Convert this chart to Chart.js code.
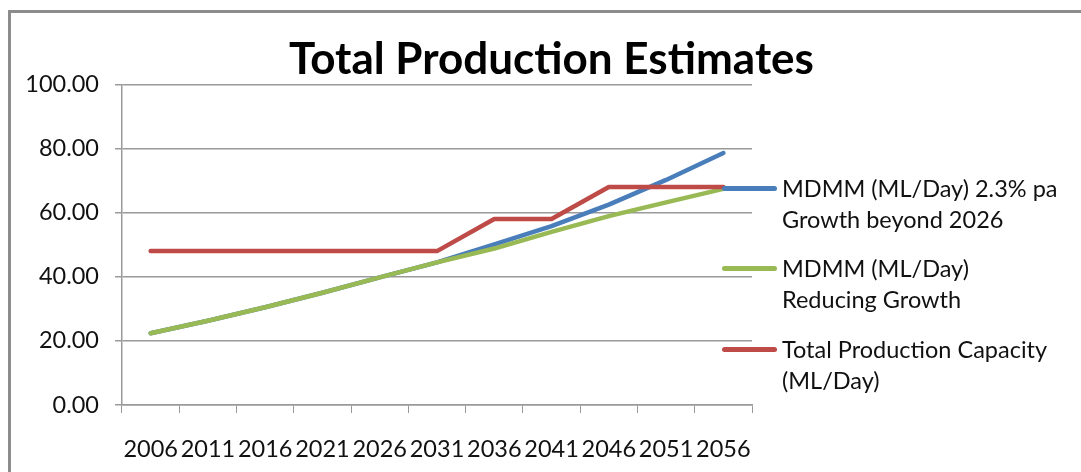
<!DOCTYPE html>
<html>
<head>
<meta charset="utf-8">
<script src="https://cdn.jsdelivr.net/npm/chart.js@4.4.1/dist/chart.umd.min.js"></script>
<style>
    body { margin: 0; background: #fff; }
    #wrap { position: relative; width: 1081px; height: 472px; overflow: hidden; }
    #frame { position: absolute; left: 8px; top: 10px; width: 1200px; height: 600px;
             border-left: 3px solid #8c8c8c; border-top: 3px solid #8c8c8c; }
    canvas { position: absolute; left: 0; top: 0; }
    .leg { position: absolute; left: 722px; font-family: Lato, sans-serif; font-size: 23.5px;
           line-height: 31px; color: #111; }
    .leg .swatch { position: absolute; left: 0; top: 13px; width: 55px; height: 5px; border-radius: 3px; }
    .leg .txt { margin-left: 60px; white-space: nowrap; }
</style>
</head>
<body>
<div id="wrap">
    <div id="frame"></div>
    <canvas id="productionChart" width="1081" height="472"></canvas>
    <div id="legend"></div>
</div>
<script>
// Dados
const anos = ['2006', '2011', '2016', '2021', '2026', '2031', '2036', '2041', '2046', '2051', '2056'];
const mdmmCrescimento = [22.4, 26.3, 30.5, 35.0, 39.8, 44.5, 50.1, 55.8, 62.5, 70.2, 78.6];
const mdmmReducao = [22.4, 26.3, 30.5, 35.0, 39.8, 44.5, 48.8, 54.0, 58.9, 63.2, 67.4];
const capacidadeTotal = [48, 48, 48, 48, 48, 48, 58, 58, 68, 68, 68];
const yTicks = [0, 20, 40, 60, 80, 100];

const series = [
    { label: ['MDMM (ML/Day) 2.3% pa', 'Growth beyond 2026'], data: mdmmCrescimento, color: '#4a7ebb', order: 2, top: 173 },
    { label: ['MDMM (ML/Day)', 'Reducing Growth'], data: mdmmReducao, color: '#98b954', order: 1, top: 253 },
    { label: ['Total Production Capacity', '(ML/Day)'], data: capacidadeTotal, color: '#be4b48', order: 0, top: 334 }
];

const fontFamily = 'Lato, sans-serif';

// Legenda em HTML (texto em duas linhas)
function renderLegend() {
    const el = document.getElementById('legend');
    series.forEach(s => {
        const item = document.createElement('div');
        item.className = 'leg';
        item.style.top = s.top + 'px';
        item.innerHTML = `<div class="swatch" style="background:${s.color}"></div>` +
            s.label.map(t => `<div class="txt">${t}</div>`).join('');
        el.appendChild(item);
    });
}

// Função para renderizar o gráfico
function renderChart() {
    const ctx = document.getElementById('productionChart').getContext('2d');
    new Chart(ctx, {
        type: 'line',
        data: {
            labels: anos,
            datasets: series.map(s => ({
                label: s.label.join(' '),
                data: s.data,
                borderColor: s.color,
                backgroundColor: s.color,
                borderWidth: 4.5,
                borderCapStyle: 'round',
                borderJoinStyle: 'round',
                pointRadius: 0,
                tension: 0,
                order: s.order
            }))
        },
        options: {
            responsive: false,
            animation: false,
            layout: { padding: { left: 22, right: 0, top: 36, bottom: 0 } },
            plugins: {
                legend: { display: false },
                tooltip: { enabled: false },
                title: {
                    display: true,
                    text: 'Total Production Estimates',
                    color: '#000',
                    font: { family: fontFamily, size: 44, weight: 'bold', lineHeight: 1.1 },
                    padding: { top: 0, bottom: 0 }
                }
            },
            scales: {
                x: {
                    offset: true,
                    grid: { offset: true, drawOnChartArea: false, drawTicks: true, tickLength: 8, color: '#9a9a9a' },
                    border: { display: true, color: '#9a9a9a', width: 1.5 },
                    ticks: { color: '#111', font: { family: fontFamily, size: 23.5 }, padding: 22, maxRotation: 0, autoSkip: false },
                    afterFit: scale => { scale.height = 67; }
                },
                y: {
                    min: 0,
                    max: 100,
                    afterBuildTicks: scale => { scale.ticks = yTicks.map(v => ({ value: v })); },
                    grid: { color: '#9a9a9a', lineWidth: 1.5, tickLength: 7 },
                    border: { display: true, color: '#9a9a9a', width: 1.5 },
                    ticks: { color: '#111', font: { family: fontFamily, size: 23.5 }, padding: 16, callback: v => v.toFixed(2) },
                    afterFit: scale => { scale.width = 100; }
                },
                y2: {
                    position: 'right',
                    grid: { display: false },
                    border: { display: false },
                    ticks: { display: false },
                    afterFit: scale => { scale.width = 329; }
                }
            }
        }
    });
}

renderLegend();
renderChart();
</script>
</body>
</html>
